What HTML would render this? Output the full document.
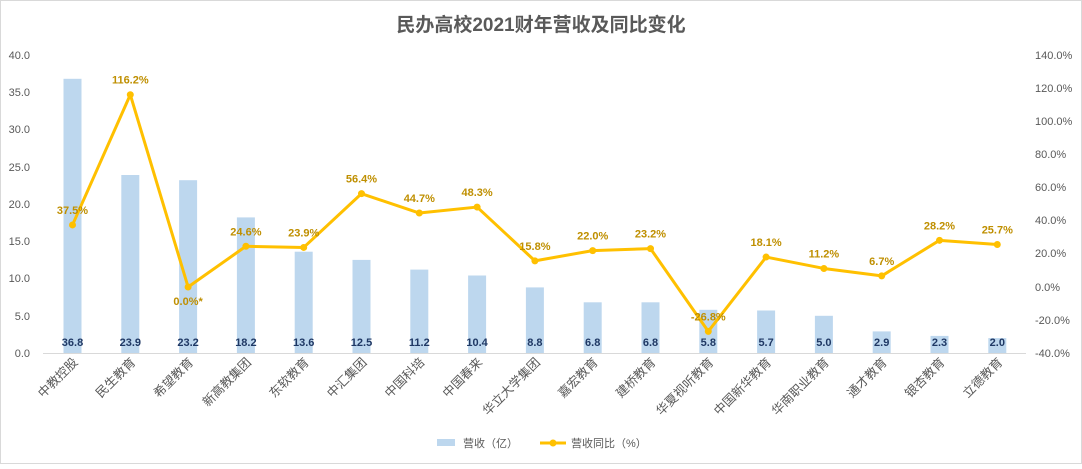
<!DOCTYPE html>
<html><head><meta charset="utf-8"><style>
body{margin:0;background:#fff;}
svg text{font-family:"Liberation Sans","Noto Sans CJK SC",sans-serif;}
</style></head><body>
<svg width="1082" height="464" xmlns="http://www.w3.org/2000/svg">
<rect x="0.5" y="0.5" width="1081" height="463" fill="#fff" stroke="#d9d9d9"/>
<text x="541" y="31" text-anchor="middle" font-size="19" font-weight="bold" fill="#595959">民办高校2021财年营收及同比变化</text>
<g font-size="11" fill="#595959">
<text x="30" y="59" text-anchor="end">40.0</text>
<text x="30" y="96" text-anchor="end">35.0</text>
<text x="30" y="133" text-anchor="end">30.0</text>
<text x="30" y="171" text-anchor="end">25.0</text>
<text x="30" y="208" text-anchor="end">20.0</text>
<text x="30" y="245" text-anchor="end">15.0</text>
<text x="30" y="282" text-anchor="end">10.0</text>
<text x="30" y="320" text-anchor="end">5.0</text>
<text x="30" y="357" text-anchor="end">0.0</text>
<text x="1035" y="59">140.0%</text>
<text x="1035" y="92">120.0%</text>
<text x="1035" y="125">100.0%</text>
<text x="1035" y="158">80.0%</text>
<text x="1035" y="191">60.0%</text>
<text x="1035" y="224">40.0%</text>
<text x="1035" y="257">20.0%</text>
<text x="1035" y="291">0.0%</text>
<text x="1035" y="324">-20.0%</text>
<text x="1035" y="357">-40.0%</text>
</g>
<g fill="#bdd7ee">
<rect x="63.5" y="78.8" width="18" height="274.2"/>
<rect x="121.3" y="175.0" width="18" height="178"/>
<rect x="179.1" y="180.2" width="18" height="172.8"/>
<rect x="236.9" y="217.4" width="18" height="135.6"/>
<rect x="294.7" y="251.7" width="18" height="101.3"/>
<rect x="352.5" y="259.9" width="18" height="93.1"/>
<rect x="410.3" y="269.6" width="18" height="83.4"/>
<rect x="468.1" y="275.5" width="18" height="77.5"/>
<rect x="525.9" y="287.4" width="18" height="65.6"/>
<rect x="583.7" y="302.3" width="18" height="50.7"/>
<rect x="641.5" y="302.3" width="18" height="50.7"/>
<rect x="699.3" y="309.8" width="18" height="43.2"/>
<rect x="757.1" y="310.5" width="18" height="42.5"/>
<rect x="814.9" y="315.8" width="18" height="37.2"/>
<rect x="872.7" y="331.4" width="18" height="21.6"/>
<rect x="930.5" y="335.9" width="18" height="17.1"/>
<rect x="988.3" y="338.1" width="18" height="14.9"/>
</g>
<line x1="43" y1="353.5" x2="1026" y2="353.5" stroke="#d9d9d9"/>
<g id="rest"></g>
<text x="463" y="447" font-size="11" fill="#595959">营收（亿）</text>
<text x="571" y="447" font-size="11" fill="#595959">营收同比（%）</text>
<rect x="437" y="439" width="18" height="7" fill="#bdd7ee"/>
<line x1="540" y1="443" x2="566" y2="443" stroke="#ffc000" stroke-width="3"/>
<circle cx="553" cy="443" r="3.5" fill="#ffc000"/>
</svg>
<script>
var names=["中教控股","民生教育","希望教育","新高教集团","东软教育","中汇集团","中国科培","中国春来","华立大学集团","嘉宏教育","建桥教育","华夏视听教育","中国新华教育","华南职业教育","通才教育","银杏教育","立德教育"];
var v=[36.8,23.9,23.2,18.2,13.6,12.5,11.2,10.4,8.8,6.8,6.8,5.8,5.7,5.0,2.9,2.3,2.0];
var p=[37.5,116.2,0.0,24.6,23.9,56.4,44.7,48.3,15.8,22.0,23.2,-26.8,18.1,11.2,6.7,28.2,25.7];
var s="",pts=[];
for(var i=0;i<17;i++){
 var x=72.5+i*57.8;
 s+='<text x="'+x+'" y="346" text-anchor="middle" font-size="11" font-weight="bold" fill="#1f3864">'+v[i].toFixed(1)+'</text>';
 var y=287-p[i]*1.655;pts.push(x+','+y);
 s+='<text transform="translate('+(x+6)+',363) rotate(-45)" text-anchor="end" font-size="12.5" fill="#595959">'+names[i]+'</text>';
}
s+='<polyline points="'+pts.join(' ')+'" fill="none" stroke="#ffc000" stroke-width="3" stroke-linejoin="round"/>';
for(var i=0;i<17;i++){
 var x=72.5+i*57.8,y=287-p[i]*1.655;
 s+='<circle cx="'+x+'" cy="'+y+'" r="3.5" fill="#ffc000"/>';
 var ly=(i==2)?y+18:y-11, t=p[i].toFixed(1)+'%'+(i==2?'*':'');
 s+='<text x="'+x+'" y="'+ly+'" text-anchor="middle" font-size="11" font-weight="bold" fill="#bf8f00">'+t+'</text>';
}
document.getElementById('rest').innerHTML=s;
</script>
</body></html>
